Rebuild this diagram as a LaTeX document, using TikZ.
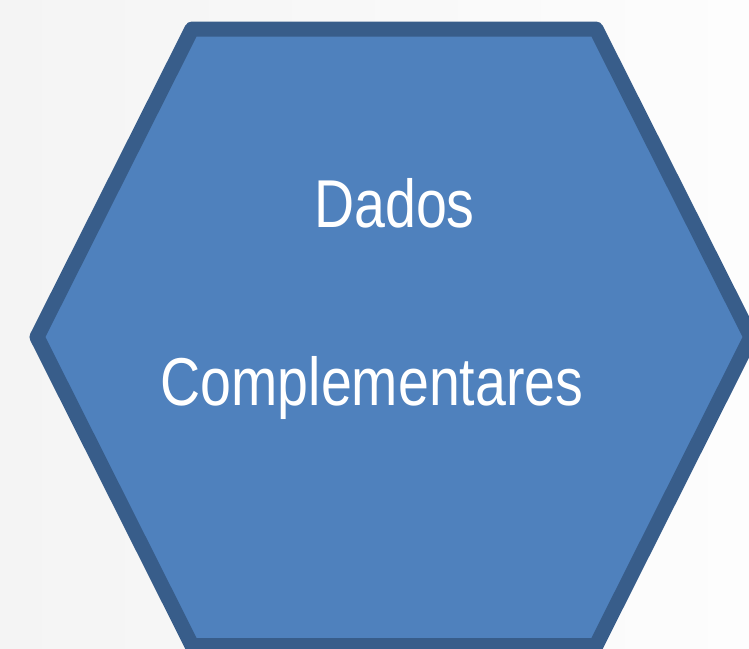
\documentclass[tikz,border=0pt]{standalone}
\usepackage{fontspec}
\setmainfont{Liberation Sans}
\definecolor{hexfill}{HTML}{4F81BD}
\definecolor{hexline}{HTML}{385D8A}
\definecolor{bgleft}{HTML}{F4F4F4}
\definecolor{bgright}{HTML}{FDFDFD}
\begin{document}
\begin{tikzpicture}[x=1pt,y=-1pt,
  hexstyle/.style={fill=hexfill,draw=hexline,line width=15pt,line join=round},
  label/.style={text=white,inner sep=0pt,anchor=base,xscale=0.82,
    font=\fontsize{67.7}{80}\selectfont}]
\useasboundingbox (0,0) rectangle (749,648);
\fill[left color=bgleft,right color=bgright] (0,0) rectangle (749,648);
\draw[hexstyle] (192,29) -- (596,29) -- (751,337) -- (596,645.5) -- (192,645.5) -- (37,337) -- cycle;
\node[label] (dados) at (394.5,227) {Dados};
\node[label] (compl) at (372,405) {Complementares};
\end{tikzpicture}
\end{document}
